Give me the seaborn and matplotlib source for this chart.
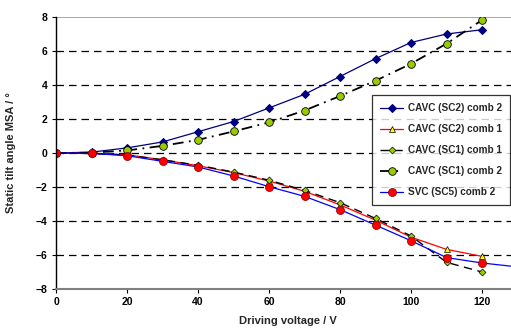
import numpy as np
import pandas as pd
import seaborn as sns
import matplotlib
matplotlib.use('Agg')
import matplotlib.pyplot as plt

# 데이터
voltage = [0, 10, 20, 30, 40, 50, 60, 70, 80, 90, 100, 110, 120]
cavc_sc2_comb2 = [0, 0.05, 0.3, 0.65, 1.25, 1.85, 2.65, 3.45, 4.5, 5.55, 6.5, 7.0, 7.25]
cavc_sc2_comb1 = [0, -0.02, -0.1, -0.4, -0.75, -1.15, -1.65, -2.25, -3.05, -3.95, -4.95, -5.67, -6.08]
cavc_sc1_comb1 = [0, -0.03, -0.12, -0.4, -0.72, -1.12, -1.6, -2.2, -2.92, -3.85, -4.88, -6.43, -7.0]
cavc_sc1_comb2 = [0, 0.02, 0.15, 0.42, 0.77, 1.27, 1.8, 2.5, 3.35, 4.25, 5.25, 6.43, 7.82]
svc_voltage = [0, 10, 20, 30, 40, 50, 60, 70, 80, 90, 100, 110, 120, 130]
svc_sc5_comb2 = [0, -0.02, -0.16, -0.49, -0.82, -1.35, -1.98, -2.55, -3.33, -4.24, -5.16, -6.15, -6.47, -6.7]

y_ticks = [-8, -6, -4, -2, 0, 2, 4, 6, 8]
x_ticks = [0, 20, 40, 60, 80, 100, 120]

sns.set_style('white')
plt.rcParams['font.family'] = ['Liberation Sans', 'DejaVu Sans']
plt.rcParams['font.weight'] = 'bold'

fig = plt.figure(figsize=(5.11, 3.29), dpi=100)
ax = fig.add_axes([56 / 511, 40 / 329, 461.5 / 511, 272 / 329])

# 가로 점선 그리드
for yv in y_ticks[1:-1]:
    ax.axhline(yv, color='black', lw=0.9, ls=(0, (6, 4)), zorder=0)
ax.axhline(8, color='#999999', lw=1.2, zorder=0)

sns.lineplot(x=voltage, y=cavc_sc2_comb2, ax=ax, color='#000080', lw=0.9,
             marker='D', markersize=3.8, markerfacecolor='#000080', markeredgecolor='#000080',
             label='CAVC (SC2) comb 2')
sns.lineplot(x=voltage, y=cavc_sc2_comb1, ax=ax, color='red', lw=0.9,
             marker='^', markersize=5, markerfacecolor='#FFFF00', markeredgecolor='black',
             markeredgewidth=0.5, label='CAVC (SC2) comb 1')
sns.lineplot(x=voltage, y=cavc_sc1_comb1, ax=ax, color='black', lw=1.0, dashes=(6, 4),
             marker='D', markersize=3.5, markerfacecolor='#99CC00', markeredgecolor='black',
             markeredgewidth=0.5, label='CAVC (SC1) comb 1')
sns.lineplot(x=voltage, y=cavc_sc1_comb2, ax=ax, color='black', lw=1.3, dashes=(6, 3, 1, 3),
             marker='o', markersize=5.5, markerfacecolor='#99CC00', markeredgecolor='black',
             markeredgewidth=0.6, label='CAVC (SC1) comb 2')
sns.lineplot(x=svc_voltage, y=svc_sc5_comb2, ax=ax, color='blue', lw=0.9,
             marker='o', markersize=5.8, markerfacecolor='red', markeredgecolor='#800000',
             markeredgewidth=0.5, label='SVC (SC5) comb 2')

ax.set_xlim(0, 130)
ax.set_ylim(-8, 8)
ax.set_xticks(x_ticks)
ax.set_yticks(y_ticks)
ax.tick_params(axis='both', labelsize=7.5, length=3, width=0.8, direction='out', pad=3,
               left=True, bottom=True, colors='black')
for lab in ax.get_xticklabels() + ax.get_yticklabels():
    lab.set_fontweight('bold')

ax.spines['left'].set_color('black')
ax.spines['left'].set_linewidth(1.0)
ax.spines['bottom'].set_color('#808080')
ax.spines['bottom'].set_linewidth(1.5)
ax.spines['top'].set_visible(False)
ax.spines['right'].set_visible(False)

ax.set_xlabel('Driving voltage / V', fontsize=8, fontweight='bold')
ax.set_ylabel('Static tilt angle MSA / °', fontsize=8, fontweight='bold')
ax.xaxis.set_label_coords(232 / 461.5, -27 / 272)
ax.yaxis.set_label_coords(-40 / 461.5, 0.5)

leg = ax.legend(loc='upper left', bbox_to_anchor=(372 / 511, 1 - 95 / 329),
                bbox_transform=fig.transFigure, fontsize=7.2, frameon=True, fancybox=False,
                edgecolor='black', handlelength=2.3, labelspacing=1.1, borderpad=0.8,
                handletextpad=0.5, borderaxespad=0)
leg.get_frame().set_linewidth(0.9)
for t in leg.get_texts():
    t.set_fontweight('bold')
leg.set_zorder(5)

fig.savefig('out.png', dpi=100)
